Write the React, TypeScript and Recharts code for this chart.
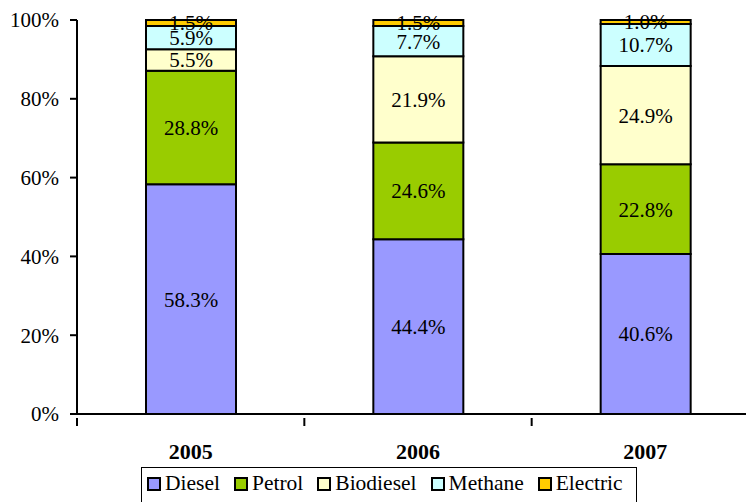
import { BarChart, Bar, XAxis, YAxis, Legend, LabelList } from "recharts";

// fuel share of new registrations, percent per year
const years = ["2005", "2006", "2007"];
const diesel = [58.3, 44.4, 40.6];
const petrol = [28.8, 24.6, 22.8];
const biodiesel = [5.5, 21.9, 24.9];
const methane = [5.9, 7.7, 10.7];
const electric = [1.5, 1.5, 1.0];

const yTicks = [0, 0.2, 0.4, 0.6, 0.8, 1];

const series = [
  { key: "Diesel", values: diesel, color: "#9999ff" },
  { key: "Petrol", values: petrol, color: "#99cc00" },
  { key: "Biodiesel", values: biodiesel, color: "#ffffcc" },
  { key: "Methane", values: methane, color: "#ccffff" },
  { key: "Electric", values: electric, color: "#ffcc00" },
];

const data = years.map((year, i) => {
  const row: Record<string, any> = { year };
  series.forEach((s) => {
    row[s.key] = s.values[i];
  });
  return row;
});

const serif = "'Liberation Serif', 'Times New Roman', serif";

// category label plus a tick mark on the left edge of each band
const YearTick = (props: any) => {
  const { x, y, payload } = props;
  const half = payload.offset || 0;
  return (
    <g>
      <line x1={x - half} y1={y - 4} x2={x - half} y2={y + 4} stroke="#000" strokeWidth={2} />
      <text x={x} y={y + 37} textAnchor="middle" fontFamily={serif} fontWeight="bold" fontSize={22} fill="#000">
        {payload.value}
      </text>
    </g>
  );
};

const LegendBox = () => (
  <div
    style={{
      border: "1.5px solid #000",
      height: 42,
      boxSizing: "border-box",
      display: "flex",
      alignItems: "flex-start",
      paddingTop: 3,
      paddingLeft: 5,
      fontFamily: serif,
      fontSize: 21.5,
      color: "#000",
      whiteSpace: "nowrap",
    }}
  >
    {series.map((s) => (
      <span key={s.key} style={{ display: "flex", alignItems: "center", marginRight: 14 }}>
        <span
          style={{
            width: 10,
            height: 10,
            background: s.color,
            border: "2px solid #000",
            marginRight: 4,
            display: "inline-block",
          }}
        />
        {s.key}
      </span>
    ))}
  </div>
);

export default function App() {
  return (
    <div style={{ position: "fixed", left: 0, top: 0, width: 746, height: 502, overflow: "hidden", background: "#fff" }}>
      <BarChart
        width={770}
        height={510}
        data={data}
        stackOffset="expand"
        margin={{ top: 20, right: 11, left: 0, bottom: 24 }}
      >
        <YAxis
          width={77}
          domain={[0, 1]}
          ticks={yTicks}
          tickFormatter={(v: number) => `${Math.round(v * 100)}%`}
          axisLine={{ stroke: "#000", strokeWidth: 2 }}
          tickLine={{ stroke: "#000", strokeWidth: 2 }}
          tickSize={7}
          tickMargin={11}
          tick={{ fill: "#000", fontFamily: serif, fontSize: 21 }}
        />
        <XAxis
          dataKey="year"
          height={30}
          axisLine={{ stroke: "#000", strokeWidth: 2 }}
          tickLine={false}
          tick={<YearTick />}
          interval={0}
        />
        <Legend
          verticalAlign="bottom"
          content={<LegendBox />}
          wrapperStyle={{ left: 141, top: 467, width: 496 }}
        />
        {series.map((s) => (
          <Bar
            key={s.key}
            dataKey={s.key}
            stackId="fuel"
            fill={s.color}
            stroke="#000"
            strokeWidth={2}
            barSize={90}
            isAnimationActive={false}
          >
            <LabelList
              dataKey={s.key}
              position="center"
              formatter={(v: any) => `${Number(v).toFixed(1)}%`}
              style={{ fill: "#000", fontFamily: serif, fontSize: 21 }}
            />
          </Bar>
        ))}
      </BarChart>
    </div>
  );
}
